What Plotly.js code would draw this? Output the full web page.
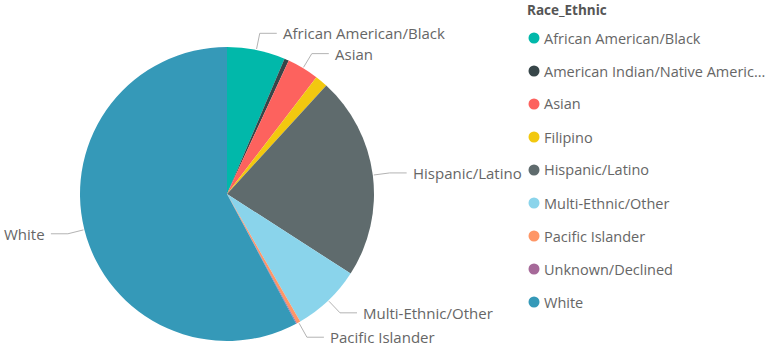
<!DOCTYPE html>
<html>
<head>
<meta charset="utf-8">
<script src="https://cdn.plot.ly/plotly-3.0.1.min.js"></script>
<style>html,body{margin:0;padding:0;background:#fff;}#chart{width:769px;height:347px;}</style>
</head>
<body>
<div id="chart"></div>
<script>
// ---- data ----
const categories = ["African American/Black", "American Indian/Native American", "Asian", "Filipino",
  "Hispanic/Latino", "Multi-Ethnic/Other", "Pacific Islander", "Unknown/Declined", "White"];
const legendLabels = ["African American/Black", "American Indian/Native Americ...", "Asian", "Filipino",
  "Hispanic/Latino", "Multi-Ethnic/Other", "Pacific Islander", "Unknown/Declined", "White"];
const shares = [6.4, 0.5, 3.5, 1.4, 22.3, 7.6, 0.4, 0.1, 57.8];
const labelShown = ["African American/Black", "Asian", "Hispanic/Latino", "Multi-Ethnic/Other", "Pacific Islander", "White"];
const colors = ["#01B8AA", "#374649", "#FD625E", "#F2C80F", "#5F6B6D", "#8AD4EB", "#FE9666", "#A66999", "#3599B8"];
const legendTitle = "Race_Ethnic";

// ---- geometry ----
const W = 769, H = 347;
const cx = 227, cy = 194, R = 147;
const px = x => x / W, py = y => 1 - y / H;
const FONT = "Open Sans, sans-serif";

const total = shares.reduce((a, b) => a + b, 0);
const shapes = [], annotations = [];
let cum = 0;
categories.forEach((c, i) => {
  const mid = (cum + shares[i] / 2) / total * 2 * Math.PI;
  cum += shares[i];
  if (!labelShown.includes(c)) return;
  const s = Math.sin(mid), k = Math.cos(mid);
  const x0 = cx + (R + 1) * s, y0 = cy - (R + 1) * k;
  const x1 = cx + (R + 17) * s, y1 = cy - (R + 17) * k;
  const right = s >= 0;
  const x2 = x1 + (right ? 17 : -17);
  shapes.push({type: "path", xref: "paper", yref: "paper",
    path: `M ${px(x0)},${py(y0)} L ${px(x1)},${py(y1)} L ${px(x2)},${py(y1)}`,
    line: {color: "#b3b3b3", width: 1}});
  annotations.push({xref: "paper", yref: "paper", x: px(x2 + (right ? 4 : -4)), y: py(y1),
    xanchor: right ? "left" : "right", yanchor: "middle", showarrow: false, text: c,
    font: {family: FONT, size: 15, color: "#666666"}});
});

// custom legend
const lx = 534, ly0 = 38, lstep = 33;
annotations.push({xref: "paper", yref: "paper", x: px(525), y: py(10), xanchor: "left", yanchor: "middle",
  showarrow: false, text: "<b>" + legendTitle + "</b>", font: {family: FONT, size: 13.5, color: "#555555"}});
legendLabels.forEach((t, i) => {
  const y = ly0 + i * lstep;
  shapes.push({type: "circle", xref: "paper", yref: "paper", xsizemode: "pixel", ysizemode: "pixel",
    xanchor: px(lx), yanchor: py(y), x0: -5.5, x1: 5.5, y0: -5.5, y1: 5.5,
    fillcolor: colors[i], line: {width: 0}});
  annotations.push({xref: "paper", yref: "paper", x: px(lx + 8), y: py(y), xanchor: "left", yanchor: "middle",
    showarrow: false, text: t, font: {family: FONT, size: 14.5, color: "#666666"}});
});

const trace = {
  type: "pie", labels: categories, values: shares, sort: false, direction: "clockwise", rotation: 0,
  marker: {colors: colors, line: {width: 0}}, textinfo: "none", hoverinfo: "label+percent",
  domain: {x: [px(cx - R), px(cx + R)], y: [py(cy + R), py(cy - R)]}
};

Plotly.newPlot("chart", [trace], {
  width: W, height: H, margin: {l: 0, r: 0, t: 0, b: 0}, showlegend: false,
  paper_bgcolor: "#ffffff", plot_bgcolor: "#ffffff", shapes: shapes, annotations: annotations,
  font: {family: FONT}
}, {displayModeBar: false, staticPlot: true});
</script>
</body>
</html>
